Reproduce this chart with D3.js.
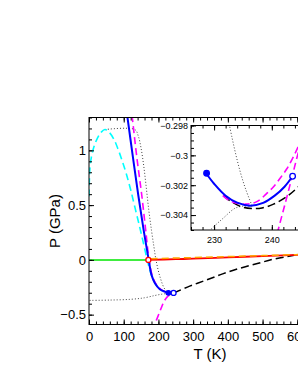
<!DOCTYPE html>
<html>
<head>
<meta charset="utf-8">
<script src="https://cdn.jsdelivr.net/npm/d3@7"></script>
<style>
  body { margin: 0; background: #fff; overflow: hidden; }
  svg { display: block; font-family: "Liberation Sans", Arial, sans-serif; }
</style>
</head>
<body>
<script>
// ---- data: [T (K), P (GPa)] ----
var xTicks = [0, 100, 200, 300, 400, 500, 600, 700];
var yTicks = [-0.5, 0, 0.5, 1];
var insetXTicks = [230, 240];
var insetYTicks = [-0.304, -0.302, -0.3, -0.298];

var greenLine = [[0, 0], [171, 0]];
var redLine = [[171, 0], [250, 0.006], [300, 0.011], [400, 0.023], [500, 0.034], [600, 0.046], [700, 0.058]];
var orangeLine = [[178, 0.011], [300, 0.021], [400, 0.030], [500, 0.039], [600, 0.048], [700, 0.058]];
var cyanLine = [[0, 0.58], [1, 0.72], [3, 0.85], [7, 0.94], [14, 1.03], [24, 1.11], [35, 1.165], [46, 1.19],
  [58, 1.165], [72, 1.1], [85, 1.0], [96, 0.9], [108, 0.78], [120, 0.64], [133, 0.47], [146, 0.3],
  [157, 0.15], [167, 0.01], [177, -0.11], [188, -0.2], [200, -0.255], [212, -0.285]];
var blueLine = [[110, 1.32], [126, 0.95], [142, 0.59], [157, 0.28], [172, 0], [180, -0.137], [190, -0.213],
  [204, -0.268], [218, -0.29], [228.7, -0.3012], [236, -0.3034], [243.6, -0.3014]];
var magentaLine = [[124, 1.32], [138, 0.93], [152, 0.59], [163, 0.28], [173, 0], [182, -0.14], [192, -0.215],
  [206, -0.268], [220, -0.292], [232, -0.303], [245.8, -0.2984], [241, -0.305], [226, -0.335],
  [216, -0.38], [208, -0.44], [198, -0.52], [188, -0.6]];
var blackLine = [[243.5, -0.302], [290, -0.24], [339, -0.183], [385, -0.128], [435, -0.076], [485, -0.033],
  [531, 0.006], [598, 0.046], [700, 0.1]];
var dottedUpper = [[46, 1.19], [132, 1.19], [142, 1.13], [150, 1.02], [158, 0.85], [165, 0.66], [172, 0.46],
  [180, 0.27], [187, 0.12], [193, 0], [204, -0.15], [219, -0.27], [230, -0.298], [236.6, -0.3034]];
var dottedLower = [[236.6, -0.3034], [228, -0.3056], [210, -0.313], [190, -0.325], [160, -0.346],
  [120, -0.36], [60, -0.367], [0, -0.37]];

// inset (zoom near the end points)
var insetBlue = [[228.6, -0.3012], [230, -0.3019], [232, -0.3027], [234, -0.30317], [236.2, -0.30337],
  [238.5, -0.30318], [240.5, -0.3027], [242.2, -0.3021], [243.6, -0.3014]];
var insetMagentaUpper = [[231.5, -0.3027], [233, -0.3031], [235.4, -0.30327], [237.4, -0.3031], [239, -0.3026],
  [240.3, -0.3021], [241.5, -0.3015], [242.6, -0.3009], [243.6, -0.3002], [244.6, -0.2994], [245.8, -0.2984]];
var insetMagentaSteep = [[245.8, -0.2984], [244.6, -0.2998], [243.6, -0.3013], [242.4, -0.3031],
  [241.1, -0.305], [239.8, -0.3071]];
var insetBlack = [[231.6, -0.3027], [232.6, -0.303], [233.9, -0.3033], [235, -0.30348], [236.5, -0.30356],
  [238.3, -0.30352], [240.3, -0.30327], [242.6, -0.30276], [244.6, -0.3021], [246.5, -0.3013]];
var insetDottedUpper = [[232.4, -0.2975], [233.1, -0.2988], [233.8, -0.3], [234.6, -0.3012], [235.5, -0.3023],
  [236.6, -0.3034]];
var insetDottedLower = [[236.6, -0.3034], [235, -0.3034], [233.6, -0.30355], [231.6, -0.3042],
  [229.6, -0.3049], [227.5, -0.3057], [225.5, -0.3065]];

var redCirclePt = [171, 0];
var blueFilledPt = [228.7, -0.3012];
var blueOpenPt = [243.6, -0.3014];

// ---- layout ----
var W = 298, H = 385;
var svg = d3.select("body").append("svg").attr("width", W).attr("height", H);

var x = d3.scaleLinear().domain([0, 700]).range([89, 332]);
var y = d3.scaleLinear().domain([-0.59, 1.3]).range([324.5, 117.5]);

var ix = d3.scaleLinear().domain([226, 248]).range([191, 318]);
var iy = d3.scaleLinear().domain([-0.305, -0.298]).range([230, 125.5]);

var defs = svg.append("defs");
defs.append("clipPath").attr("id", "clipMain").append("rect")
  .attr("x", x.range()[0]).attr("y", y.range()[1])
  .attr("width", x.range()[1] - x.range()[0]).attr("height", y.range()[0] - y.range()[1]);
defs.append("clipPath").attr("id", "clipInset").append("rect")
  .attr("x", ix.range()[0]).attr("y", iy.range()[1])
  .attr("width", ix.range()[1] - ix.range()[0]).attr("height", iy.range()[0] - iy.range()[1]);

function drawSeries(g, sx, sy, data, color, width, dash) {
  var line = d3.line()
    .x(function(d) { return sx(d[0]); })
    .y(function(d) { return sy(d[1]); })
    .curve(d3.curveCatmullRom.alpha(0.5));
  g.append("path")
    .datum(data)
    .attr("d", line)
    .attr("fill", "none")
    .attr("stroke", color)
    .attr("stroke-width", width)
    .attr("stroke-dasharray", dash || null)
    .attr("stroke-linejoin", "round");
}

function drawFrame(g, sx, sy, majorX, minorX, majorY, minorY, fontSize, xPad) {
  var x0 = sx.range()[0], x1 = sx.range()[1], y0 = sy.range()[0], y1 = sy.range()[1];
  g.append("g").attr("transform", "translate(0," + y0 + ")")
    .call(d3.axisBottom(sx).tickValues(minorX).tickSize(-3).tickSizeOuter(0).tickFormat(""));
  g.append("g").attr("transform", "translate(0," + y1 + ")")
    .call(d3.axisTop(sx).tickValues(minorX).tickSize(-3).tickSizeOuter(0).tickFormat(""));
  g.append("g").attr("transform", "translate(0," + y1 + ")")
    .call(d3.axisTop(sx).tickValues(majorX).tickSize(-5).tickSizeOuter(0).tickFormat(""));
  g.append("g").attr("transform", "translate(0," + y0 + ")")
    .call(d3.axisBottom(sx).tickValues(majorX).tickSize(-5).tickSizeOuter(0).tickPadding(xPad)
      .tickFormat(d3.format("")));
  g.append("g").attr("transform", "translate(" + x0 + ",0)")
    .call(d3.axisLeft(sy).tickValues(minorY).tickSize(-3).tickSizeOuter(0).tickFormat(""));
  g.append("g").attr("transform", "translate(" + x0 + ",0)")
    .call(d3.axisLeft(sy).tickValues(majorY).tickSize(-5).tickSizeOuter(0).tickPadding(3)
      .tickFormat(function(d) { return d3.format("")(+d.toFixed(4)); }));
  g.append("g").attr("transform", "translate(" + x1 + ",0)")
    .call(d3.axisRight(sy).tickValues(minorY).tickSize(-3).tickSizeOuter(0).tickFormat(""));
  g.selectAll(".domain").remove();
  g.selectAll(".tick line").attr("stroke", "#000");
  g.selectAll(".tick text").attr("font-size", fontSize).attr("font-family", "Liberation Sans, Arial, sans-serif")
    .attr("fill", "#000");
  g.append("rect").attr("x", x0).attr("y", y1).attr("width", x1 - x0).attr("height", y0 - y1)
    .attr("fill", "none").attr("stroke", "#000").attr("stroke-width", 1);
}

function drawMarker(g, sx, sy, pt, color, filled, r) {
  g.append("circle").attr("cx", sx(pt[0])).attr("cy", sy(pt[1])).attr("r", r)
    .attr("fill", filled ? color : "#fff").attr("stroke", color).attr("stroke-width", 1.3);
}

// ---- main plot ----
var main = svg.append("g");
var lines = main.append("g").attr("clip-path", "url(#clipMain)");
drawSeries(lines, x, y, dottedLower, "#444", 1, "1,2");
drawSeries(lines, x, y, dottedUpper, "#444", 1, "1,2");
drawSeries(lines, x, y, greenLine, "#00e600", 1.5);
drawSeries(lines, x, y, blackLine, "#000", 1.5, "8,4");
drawSeries(lines, x, y, redLine, "#ff0000", 1.8);
drawSeries(lines, x, y, orangeLine, "#ffa500", 1.5, "7,4");
drawSeries(lines, x, y, cyanLine, "#00ffff", 1.6, "7,4");
drawSeries(lines, x, y, magentaLine, "#ff00ff", 1.6, "7,4");
drawSeries(lines, x, y, blueLine, "#0000ff", 2);
drawMarker(lines, x, y, redCirclePt, "#ff0000", false, 2.5);
drawMarker(lines, x, y, blueFilledPt, "#0000ff", true, 2.3);
drawMarker(lines, x, y, blueOpenPt, "#0000ff", false, 2.5);

drawFrame(main, x, y, xTicks, d3.range(0, 701, 20), yTicks, d3.range(-0.5, 1.31, 0.1).map(function(v) { return +v.toFixed(2); }), 13, 7);

main.append("text").attr("x", 210).attr("y", 359).attr("text-anchor", "middle")
  .attr("font-size", 15).text("T (K)");
main.append("text").attr("transform", "translate(60,221) rotate(-90)").attr("text-anchor", "middle")
  .attr("font-size", 15).text("P (GPa)");

// ---- inset ----
var inset = svg.append("g");
inset.append("rect").attr("x", ix.range()[0]).attr("y", iy.range()[1])
  .attr("width", ix.range()[1] - ix.range()[0]).attr("height", iy.range()[0] - iy.range()[1])
  .attr("fill", "#fff");
var ilines = inset.append("g").attr("clip-path", "url(#clipInset)");
drawSeries(ilines, ix, iy, insetDottedUpper, "#444", 1, "1,2");
drawSeries(ilines, ix, iy, insetDottedLower, "#444", 1, "1,2");
drawSeries(ilines, ix, iy, insetBlack, "#000", 1.5, "8,4");
drawSeries(ilines, ix, iy, insetMagentaUpper, "#ff00ff", 1.6, "7,4");
drawSeries(ilines, ix, iy, insetMagentaSteep, "#ff00ff", 1.6, "7,4");
drawSeries(ilines, ix, iy, insetBlue, "#0000ff", 2);
drawMarker(ilines, ix, iy, blueFilledPt, "#0000ff", true, 2.8);
drawMarker(ilines, ix, iy, blueOpenPt, "#0000ff", false, 2.8);

drawFrame(inset, ix, iy, insetXTicks, d3.range(226, 249, 2), insetYTicks,
  d3.range(-0.305, -0.2979, 0.0005).map(function(v) { return +v.toFixed(4); }), 9, 7);
</script>
</body>
</html>
